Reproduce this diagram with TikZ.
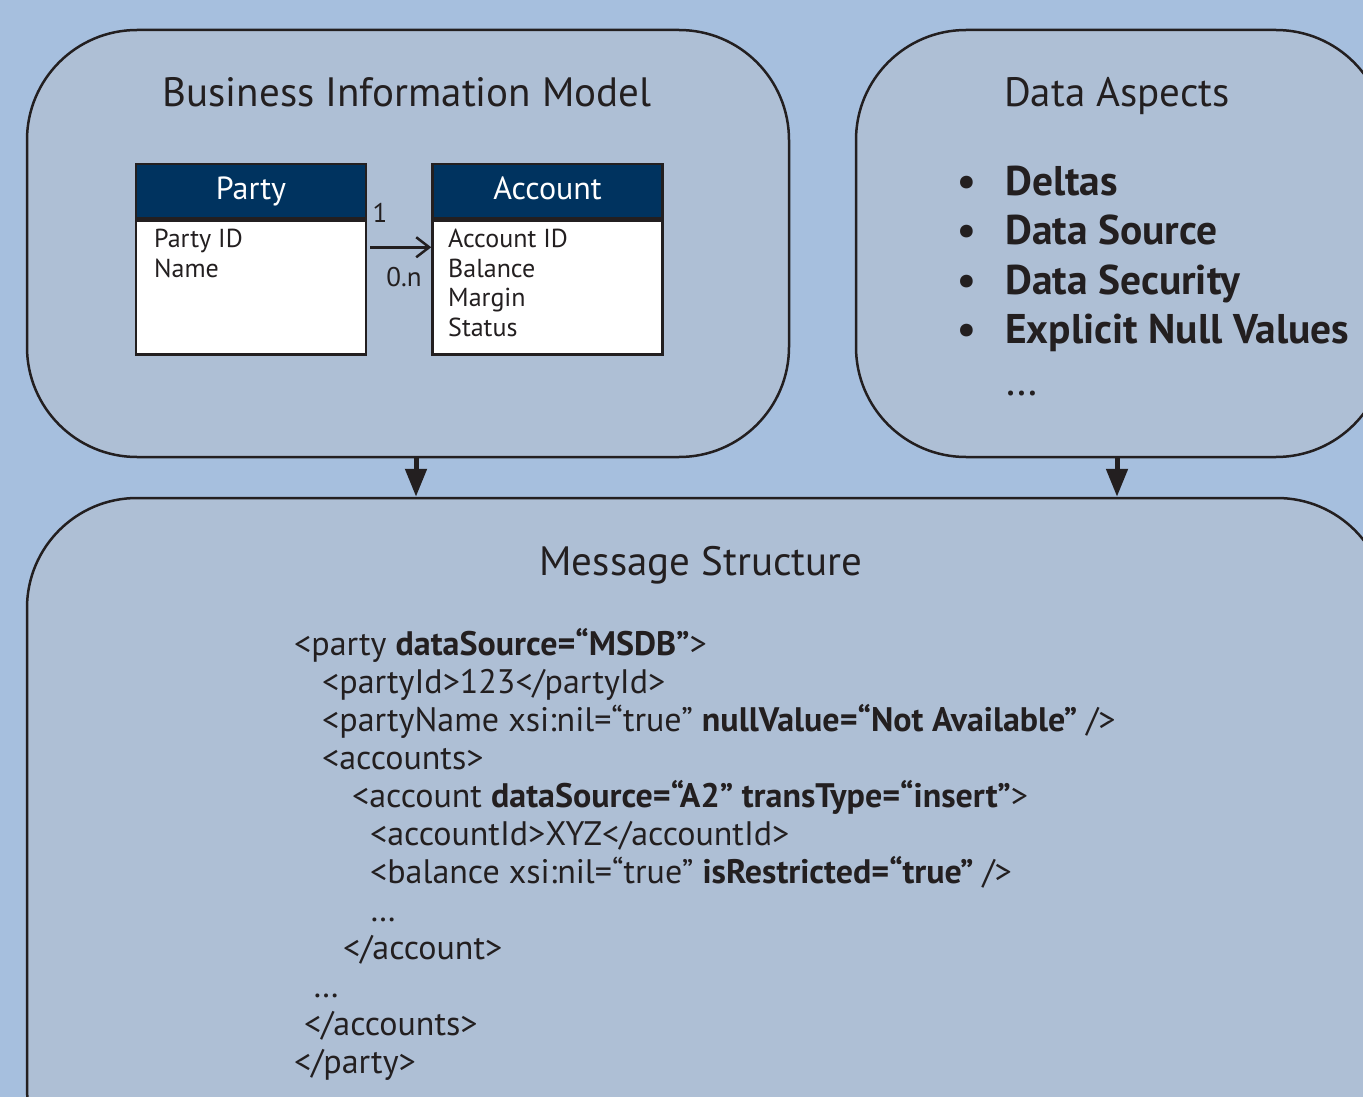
\documentclass[tikz,border=0pt]{standalone}
\usepackage{fontspec}
\setmainfont{PT Sans}
\usetikzlibrary{arrows.meta,positioning}
\definecolor{bgblue}{HTML}{A6BFDE}
\definecolor{boxblue}{HTML}{AEBFD5}
\definecolor{navy}{HTML}{00335F}
\definecolor{ink}{HTML}{231F20}

\begin{document}
\begin{tikzpicture}[x=1pt, y=-1pt]
    \tikzstyle{bignode} = [draw=ink, line width=2.5pt, fill=boxblue, rectangle, rounded corners=110pt, inner sep=0pt]
    \tikzstyle{headnode} = [draw=ink, line width=2.5pt, fill=navy, text=white, rectangle, inner sep=0pt, minimum width=230pt, minimum height=54pt, text height=24pt, text depth=6pt, font=\fontsize{32}{40}\selectfont]
    \tikzstyle{bodynode} = [draw=ink, line width=2.5pt, fill=white, rectangle, inner sep=0pt, minimum width=230pt, minimum height=134pt]
    \tikzstyle{listnode} = [text=ink, anchor=north west, align=left, inner sep=0pt, font=\fontsize{26}{29.5}\selectfont]
    \tikzstyle{multnode} = [text=ink, inner sep=0pt, font=\fontsize{27}{30}\selectfont]
    \tikzstyle{titlenode} = [text=ink, anchor=base, inner sep=0pt, font=\fontsize{41}{50}\selectfont]
    \tikzstyle{itemnode} = [text=ink, anchor=base west, inner sep=0pt, font=\fontsize{41.5}{50}\selectfont\bfseries]
    \tikzstyle{codenode} = [text=ink, anchor=base west, inner sep=0pt, font=\fontsize{34}{38}\selectfont]
    \tikzstyle{flow} = [draw=ink, line width=5pt, -{Triangle[length=28pt, width=21pt]}]
    \tikzstyle{assoc} = [draw=ink, line width=2.5pt, -{Straight Barb[length=13pt, width=20pt]}]

    \useasboundingbox (0,0) rectangle (1363,1097);
    \fill[bgblue] (0,0) rectangle (1363,1097);
    \clip (0,0) rectangle (1363,1097);

    % the three big regions
    \node[bignode, minimum width=762pt, minimum height=427pt] (bim) at (408,243.5) {};
    \node[bignode, minimum width=530pt, minimum height=427pt] (asp) at (1121,243.5) {};
    \node[bignode, minimum width=1360pt, minimum height=700pt] (msg) at (707,848) {};

    \node[titlenode] (bimtitle) at (407,107) {Business Information Model};
    \node[titlenode] (asptitle) at (1117,107) {Data Aspects};
    \node[titlenode] (msgtitle) at (701,575) {Message Structure};

    % flows into the message
    \coordinate (c1) at (416,0);
    \coordinate (c2) at (1117,0);
    \draw[flow] (bim.south -| c1) -- (msg.north -| c1);
    \draw[flow] (asp.south -| c2) -- (msg.north -| c2);

    % party and account
    \node[headnode] (partyhead) at (251,191) {Party};
    \node[bodynode, below=0pt of partyhead] (partybody) {};
    \node[headnode] (acchead) at (547.5,191) {Account};
    \node[bodynode, below=0pt of acchead] (accbody) {};

    \node[listnode] (partylist) at (154,229) {Party ID\\Name};
    \node[listnode] (acclist) at (448,229) {Account ID\\Balance\\Margin\\Status};

    \draw[assoc] ([xshift=3pt, yshift=-28pt]partybody.north east) -- ([yshift=-28pt]accbody.north west);
    \node[multnode] (one) at (380,213) {1};
    \node[multnode] (zeron) at (404,277) {0.n};

    % data aspects
    \node[itemnode] (b1) at (957,195) {•};
    \node[itemnode] (b2) at (957,244) {•};
    \node[itemnode] (b3) at (957,294) {•};
    \node[itemnode] (b4) at (957,343) {•};
    \node[itemnode] (i1) at (1005,195) {Deltas};
    \node[itemnode] (i2) at (1005,244) {Data Source};
    \node[itemnode] (i3) at (1005,294) {Data Security};
    \node[itemnode] (i4) at (1005,343) {Explicit Null Values};
    \node[itemnode, font=\fontsize{43}{50}\selectfont] (i5) at (1005,395) {…};

    % message lines
    \node[codenode] (l1) at (294,655) {<party \textbf{dataSource=“MSDB”}>};
    \node[codenode] (l2) at (322,693) {<partyId>123</partyId>};
    \node[codenode] (l3) at (322,731) {<partyName xsi:nil=“true” \textbf{nullValue=“Not Available”} />};
    \node[codenode] (l4) at (322,769) {<accounts>};
    \node[codenode] (l5) at (352,807) {<account \textbf{dataSource=“A2” transType=“insert”}>};
    \node[codenode] (l6) at (370,845) {<accountId>XYZ</accountId>};
    \node[codenode] (l7) at (370,883) {<balance xsi:nil=“true” \textbf{isRestricted=“true”} />};
    \node[codenode] (l8) at (370,921) {…};
    \node[codenode] (l9) at (343,959) {</account>};
    \node[codenode] (l10) at (313,997) {…};
    \node[codenode] (l11) at (304,1035) {</accounts>};
    \node[codenode] (l12) at (294,1073) {</party>};
\end{tikzpicture}
\end{document}
